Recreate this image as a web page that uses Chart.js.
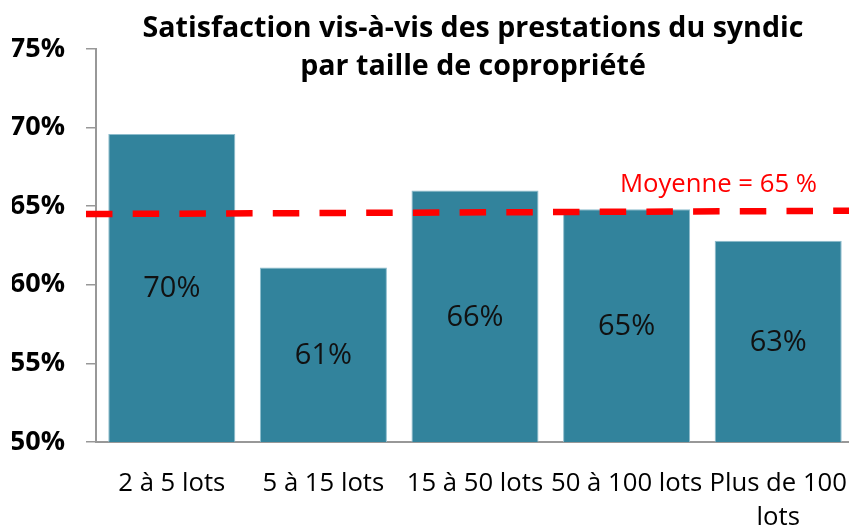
<!DOCTYPE html>
<html>
<head>
<meta charset="utf-8">
<script src="https://cdn.jsdelivr.net/npm/chart.js@4/dist/chart.umd.min.js"></script>
<style>
  html, body { margin: 0; padding: 0; background: #fff; overflow: hidden; }
  #wrap { width: 858px; height: 525px; }
</style>
</head>
<body>
<div id="wrap"><canvas id="c" width="858" height="525"></canvas></div>
<script>
// ---- data ----
const titleLines = ['Satisfaction vis-à-vis des prestations du syndic', 'par taille de copropriété'];
const categories = ['2 à 5 lots', '5 à 15 lots', '15 à 50 lots', '50 à 100 lots', ['Plus de 100', 'lots']];
const satisfaction = [69.6, 61.1, 66.0, 64.8, 62.8];
const valueLabels = ['70%', '61%', '66%', '65%', '63%'];
const yMin = 50, yMax = 75, yStep = 5;
const averageLabel = 'Moyenne = 65 %';
const averageLine = [64.5, 64.71]; // value at left end, value at right end (as drawn)

const FONT = '"Open Sans", "Liberation Sans", sans-serif';
const RED = '#ff0000';
const AXIS = '#989898';

const titlePlugin = {
  id: 'titleText',
  afterDraw(chart) {
    const ctx = chart.ctx, ca = chart.chartArea;
    ctx.save();
    ctx.fillStyle = '#000';
    ctx.font = 'bold 28.6px ' + FONT;
    ctx.textAlign = 'center';
    ctx.textBaseline = 'alphabetic';
    const cx = (ca.left + ca.right) / 2 - 2;
    titleLines.forEach((t, i) => ctx.fillText(t, cx, 37 + i * 38));
    ctx.restore();
  }
};

const averagePlugin = {
  id: 'averageLine',
  afterDatasetsDraw(chart) {
    const ctx = chart.ctx, ca = chart.chartArea, y = chart.scales.y;
    const x0 = ca.left - 10, x1 = chart.width;
    const y0 = y.getPixelForValue(averageLine[0]);
    const y1 = y.getPixelForValue(averageLine[1]);
    ctx.save();
    ctx.strokeStyle = RED;
    ctx.lineWidth = 6.5;
    ctx.lineCap = 'butt';
    ctx.setLineDash([26.5, 20.2]);
    ctx.beginPath();
    ctx.moveTo(x0, y0);
    ctx.lineTo(x1, y1);
    ctx.stroke();
    ctx.setLineDash([]);
    ctx.fillStyle = RED;
    ctx.font = '25.7px ' + FONT;
    ctx.textAlign = 'right';
    ctx.textBaseline = 'middle';
    const tx = ca.right - 37;
    const ty = y0 + (y1 - y0) * (tx - x0) / (x1 - x0) - 26;
    ctx.fillText(averageLabel, tx, ty);
    ctx.restore();
  }
};

const barLabelPlugin = {
  id: 'barLabels',
  afterDatasetsDraw(chart) {
    const ctx = chart.ctx;
    const bottom = chart.chartArea.bottom;
    const meta = chart.getDatasetMeta(0);
    ctx.save();
    ctx.fillStyle = '#111';
    ctx.font = '29px ' + FONT;
    ctx.textAlign = 'center';
    ctx.textBaseline = 'middle';
    meta.data.forEach((el, i) => {
      const b = Math.min(el.base, bottom);
      ctx.fillText(valueLabels[i], el.x, (el.y + b) / 2 + 1);
    });
    ctx.restore();
  }
};

new Chart(document.getElementById('c'), {
  type: 'bar',
  data: {
    labels: categories,
    datasets: [{
      data: satisfaction,
      backgroundColor: '#32839c',
      borderColor: '#8dbccc',
      borderWidth: 1,
      borderSkipped: 'bottom',
      categoryPercentage: 1,
      barPercentage: 0.838
    }]
  },
  options: {
    responsive: false,
    animation: false,
    layout: { padding: { left: 12, right: 4, top: 49, bottom: 0 } },
    plugins: { legend: { display: false }, title: { display: false }, tooltip: { enabled: false } },
    scales: {
      x: {
        grid: { display: false },
        border: { display: true, color: AXIS, width: 2 },
        ticks: {
          color: '#000',
          font: { family: FONT, size: 25.7, lineHeight: '33.5px' },
          padding: 17,
          maxRotation: 0,
          autoSkip: false
        },
        afterFit(s) { s.height = 83; s.paddingLeft = 0; s.paddingRight = 0; }
      },
      y: {
        min: yMin, max: yMax,
        grid: { drawOnChartArea: false, drawTicks: true, tickLength: 10, color: AXIS, lineWidth: 1.5 },
        border: { display: true, color: AXIS, width: 2 },
        ticks: {
          stepSize: yStep,
          color: '#000',
          padding: 21,
          font: { family: FONT, size: 27, weight: 'bold' },
          callback: v => v + '%'
        },
        afterFit(s) { s.width = 84; }
      }
    }
  },
  plugins: [titlePlugin, averagePlugin, barLabelPlugin]
});
</script>
</body>
</html>
